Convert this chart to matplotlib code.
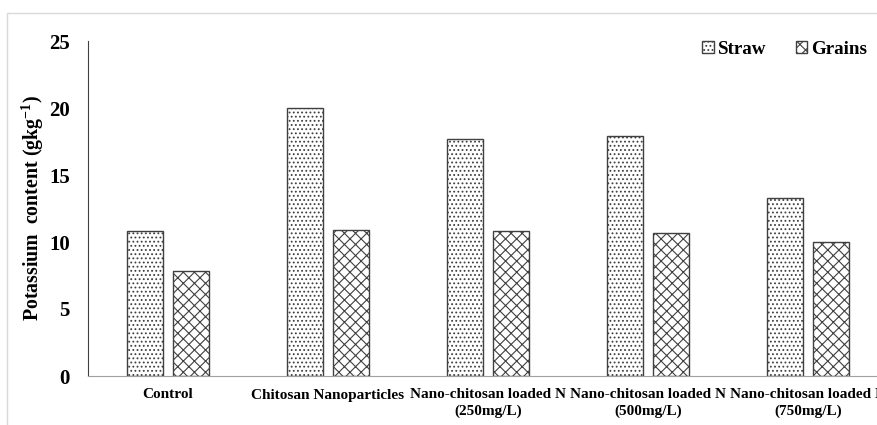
import numpy as np
import matplotlib.pyplot as plt
from matplotlib.patches import Rectangle

plt.rcParams['font.family'] = ['Liberation Serif', 'DejaVu Serif']
plt.rcParams['font.weight'] = 'bold'
plt.rcParams['mathtext.fontset'] = 'custom'
plt.rcParams['mathtext.rm'] = 'Liberation Serif:bold'
plt.rcParams['mathtext.bf'] = 'Liberation Serif:bold'
plt.rcParams['hatch.linewidth'] = 0.8

# values
categories = ['Control', 'Chitosan Nanoparticles',
              'Nano-chitosan loaded N\n(250mg/L)',
              'Nano-chitosan loaded N\n(500mg/L)',
              'Nano-chitosan loaded N\n(750mg/L)']
straw = [10.8, 20.0, 17.7, 17.9, 13.25]
grains = [7.8, 10.9, 10.85, 10.7, 10.0]

W, H = 877, 425
fig = plt.figure(figsize=(W / 100, H / 100), dpi=100)

# light frame around the chart area
fig.patches.append(Rectangle((7 / W, -0.1), 1.2, 1 - 13 / H + 0.1,
                             transform=fig.transFigure, fill=False,
                             edgecolor='#d9d9d9', lw=1.0))

# axes reach past the right edge, as in the reference
ax = fig.add_axes([88 / W, 1 - 376 / H, 800 / W, (376 - 41) / H])

x = np.arange(len(categories))
bw = 0.225
ax.bar(x - 0.143, straw, bw, color='white', edgecolor='#404040',
       hatch='....', lw=1.0, label='Straw')
ax.bar(x + 0.143, grains, bw, color='white', edgecolor='#404040',
       hatch='xxx', lw=1.0, label='Grains')

ax.set_xlim(-0.5, len(categories) - 0.5)
ax.set_ylim(0, 25)
ax.set_yticks([0, 5, 10, 15, 20, 25])
ax.set_xticks(x)
ax.set_xticklabels(categories, fontsize=11, fontweight='bold',
                   linespacing=1.25)
ax.tick_params(axis='y', labelsize=15, length=0, pad=13)
ax.tick_params(axis='x', length=0, pad=9)

for s in ['top', 'right']:
    ax.spines[s].set_visible(False)
ax.spines['left'].set_color('#404040')
ax.spines['bottom'].set_color('#a0a0a0')

ax.set_ylabel('Potassium  content (gkg$^{-1}$)', fontsize=14.3,
              fontweight='bold')
ax.yaxis.set_label_coords(-0.053, 0.5)

ax.legend(loc='upper right', bbox_to_anchor=(884 / W, 1 - 24 / H),
          bbox_transform=fig.transFigure, ncol=2, frameon=False,
          fontsize=13.7, handlelength=0.6, handleheight=0.6,
          handletextpad=0.2, columnspacing=1.55)

fig.savefig('out.png', dpi=100)
